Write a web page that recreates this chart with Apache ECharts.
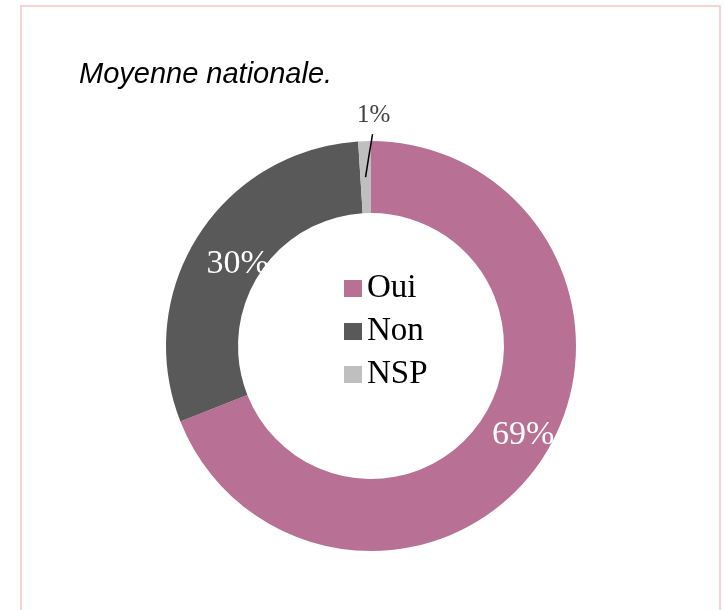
<!DOCTYPE html>
<html lang="fr">
<head>
    <meta charset="UTF-8">
    <title>Moyenne nationale</title>
    <script src="https://cdn.jsdelivr.net/npm/echarts@6/dist/echarts.min.js"></script>
    <style>
        body { margin: 0; background: #fff; }
    </style>
</head>
<body>
<div id="main" style="width: 724px;height:610px;"></div>
<script>
    // données du graphique
    var categories = ['Oui', 'Non', 'NSP'];
    var values = [69, 30, 1];
    var colors = ['#B87094', '#595959', '#BFBFBF'];

    var serif = '"Liberation Serif", "DejaVu Serif", serif';

    var myChart = echarts.init(document.getElementById('main'));

    // anneau : labels blancs à l'intérieur pour Oui / Non
    var ringData = [];
    // calque au-dessus : seulement le label 1% et sa ligne de rappel
    var calloutData = [];
    var insideOffsets = [[10, -8], [12, 10], null];
    for (var i = 0; i < categories.length; i++) {
        var inside = insideOffsets[i] !== null;
        ringData.push({
            name: categories[i],
            value: values[i],
            itemStyle: { color: colors[i] },
            label: inside
                ? { show: true, position: 'inside', color: '#fff', fontSize: 34, offset: insideOffsets[i] }
                : { show: false }
        });
        calloutData.push({
            name: categories[i],
            value: values[i],
            label: { show: !inside },
            labelLine: { show: !inside }
        });
    }

    var option = {
        animation: false,
        backgroundColor: '#fff',
        title: {
            text: 'Moyenne nationale.',
            left: 74,
            top: 55,
            textStyle: {
                fontFamily: '"Liberation Sans", Arial, sans-serif',
                fontStyle: 'italic',
                fontWeight: 'normal',
                fontSize: 29,
                color: '#000'
            }
        },
        legend: {
            orient: 'vertical',
            left: 339,
            top: 267,
            itemWidth: 18,
            itemHeight: 17,
            itemGap: 10,
            icon: 'rect',
            data: categories,
            textStyle: {
                fontFamily: serif,
                fontSize: 33,
                color: '#000'
            }
        },
        graphic: [{
            type: 'rect',
            z: -1,
            shape: { x: 21, y: 6, width: 699, height: 640 },
            style: { fill: 'none', stroke: '#f8d3d3', lineWidth: 2 }
        }],
        series: [
            {
                name: 'Moyenne nationale',
                type: 'pie',
                z: 2,
                center: [371, 346],
                radius: [133, 205],
                startAngle: 90,
                clockwise: true,
                avoidLabelOverlap: false,
                label: {
                    formatter: '{c}%',
                    fontFamily: serif
                },
                labelLine: { show: false },
                data: ringData
            },
            {
                name: 'Rappel',
                type: 'pie',
                z: 3,
                silent: true,
                center: [371, 346],
                radius: [133, 205],
                startAngle: 90,
                clockwise: true,
                avoidLabelOverlap: false,
                itemStyle: { color: 'rgba(0,0,0,0)' },
                label: {
                    position: 'outside',
                    formatter: '{c}%',
                    fontFamily: serif,
                    fontSize: 25,
                    color: '#404040'
                },
                labelLine: {
                    length: 8,
                    length2: 0,
                    lineStyle: { color: '#000', width: 1.5 }
                },
                // ligne de rappel du 1% : part du milieu de l'anneau, monte vers le label
                labelLayout: function (params) {
                    if (!params.labelLinePoints) return {};
                    var p = params.labelLinePoints[0];
                    return {
                        x: p[0] + 9,
                        y: p[1] - 26,
                        align: 'center',
                        verticalAlign: 'middle',
                        labelLinePoints: [[p[0] + 1, p[1] + 36], [p[0] + 4, p[1] + 17], [p[0] + 8, p[1] - 7]]
                    };
                },
                data: calloutData
            }
        ]
    };

    myChart.setOption(option);
</script>
</body>
</html>
